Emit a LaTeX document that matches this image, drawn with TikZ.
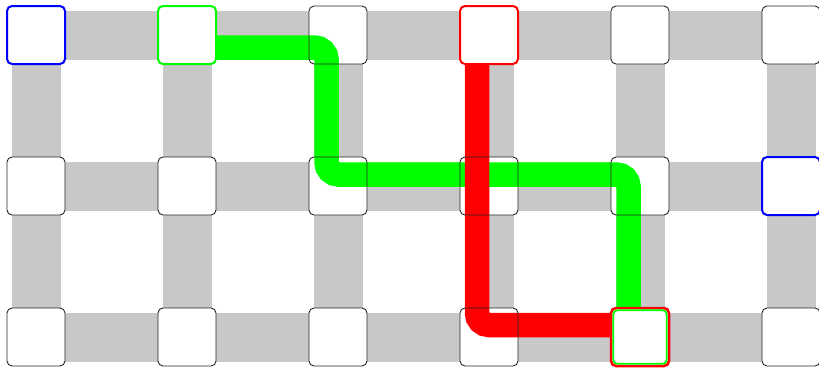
\documentclass[tikz,border=0pt]{standalone}
\usetikzlibrary{calc}
\definecolor{bargray}{HTML}{C8C8C8}
\definecolor{pgreen}{HTML}{00FF00}
\definecolor{pred}{HTML}{FF0000}
\definecolor{pblue}{HTML}{0000FF}
\definecolor{edgegray}{HTML}{262626}
\pgfdeclarelayer{bg}
\pgfsetlayers{bg,main}
\begin{document}
\begin{tikzpicture}[x=1pt,y=-1pt,
  cell/.style={rectangle,rounded corners=5pt,minimum width=58pt,minimum height=58pt,inner sep=0pt,fill=white},
  plainfr/.style={rectangle,rounded corners=5pt,minimum width=58pt,minimum height=58pt,inner sep=0pt,draw=edgegray,line width=0.9pt},
  bluefr/.style={plainfr,draw=pblue,line width=2pt},
  greenfr/.style={plainfr,draw=pgreen,line width=2pt},
  redfr/.style={plainfr,draw=pred,line width=2pt},
  redouter/.style={plainfr,draw=pred,line width=2.5pt},
  greeninner/.style={rectangle,rounded corners=4pt,minimum width=53.5pt,minimum height=53.5pt,inner sep=0pt,draw=pgreen,line width=1.8pt},
  bar/.style={line width=49pt,bargray},
  route/.style={line width=24.5pt,rounded corners=12pt},
]
\useasboundingbox (0,0) rectangle (819,367);
% cells
\foreach \r/\y in {0/35,1/186,2/337}{
  \foreach \c in {0,...,5}{
    \node[cell] (n\r\c) at ({36+151*\c},\y) {};
  }
}
% grey lanes
\begin{pgfonlayer}{bg}
\foreach \r in {0,1,2}{
  \foreach \c [evaluate=\c as \d using int(\c+1)] in {0,...,4}{
    \draw[bar] (n\r\c.center) -- (n\r\d.center);
  }
}
\foreach \c in {0,...,5}{
  \draw[bar] (n0\c.center) -- (n1\c.center);
  \draw[bar] (n1\c.center) -- (n2\c.center);
}
\end{pgfonlayer}
% routes
\draw[route,pgreen] ($(n01.east)+(0,12.5)$) -| ($(n12.center)+(-11.5,-11.5)$) -| ($(n24.north)+(-11.5,0)$);
\draw[route,pred] ($(n03.south)+(-12,0)$) |- ($(n24.west)+(0,-12)$);
% frames
\foreach \r/\c/\s in {0/0/bluefr,0/1/greenfr,0/2/plainfr,0/3/redfr,0/4/plainfr,0/5/plainfr,
                      1/0/plainfr,1/1/plainfr,1/2/plainfr,1/3/plainfr,1/4/plainfr,1/5/bluefr,
                      2/0/plainfr,2/1/plainfr,2/2/plainfr,2/3/plainfr,2/4/redouter,2/5/plainfr}{
  \node[\s] (f\r\c) at (n\r\c) {};
}
\node[greeninner] (g24) at (n24) {};
\end{tikzpicture}
\end{document}
